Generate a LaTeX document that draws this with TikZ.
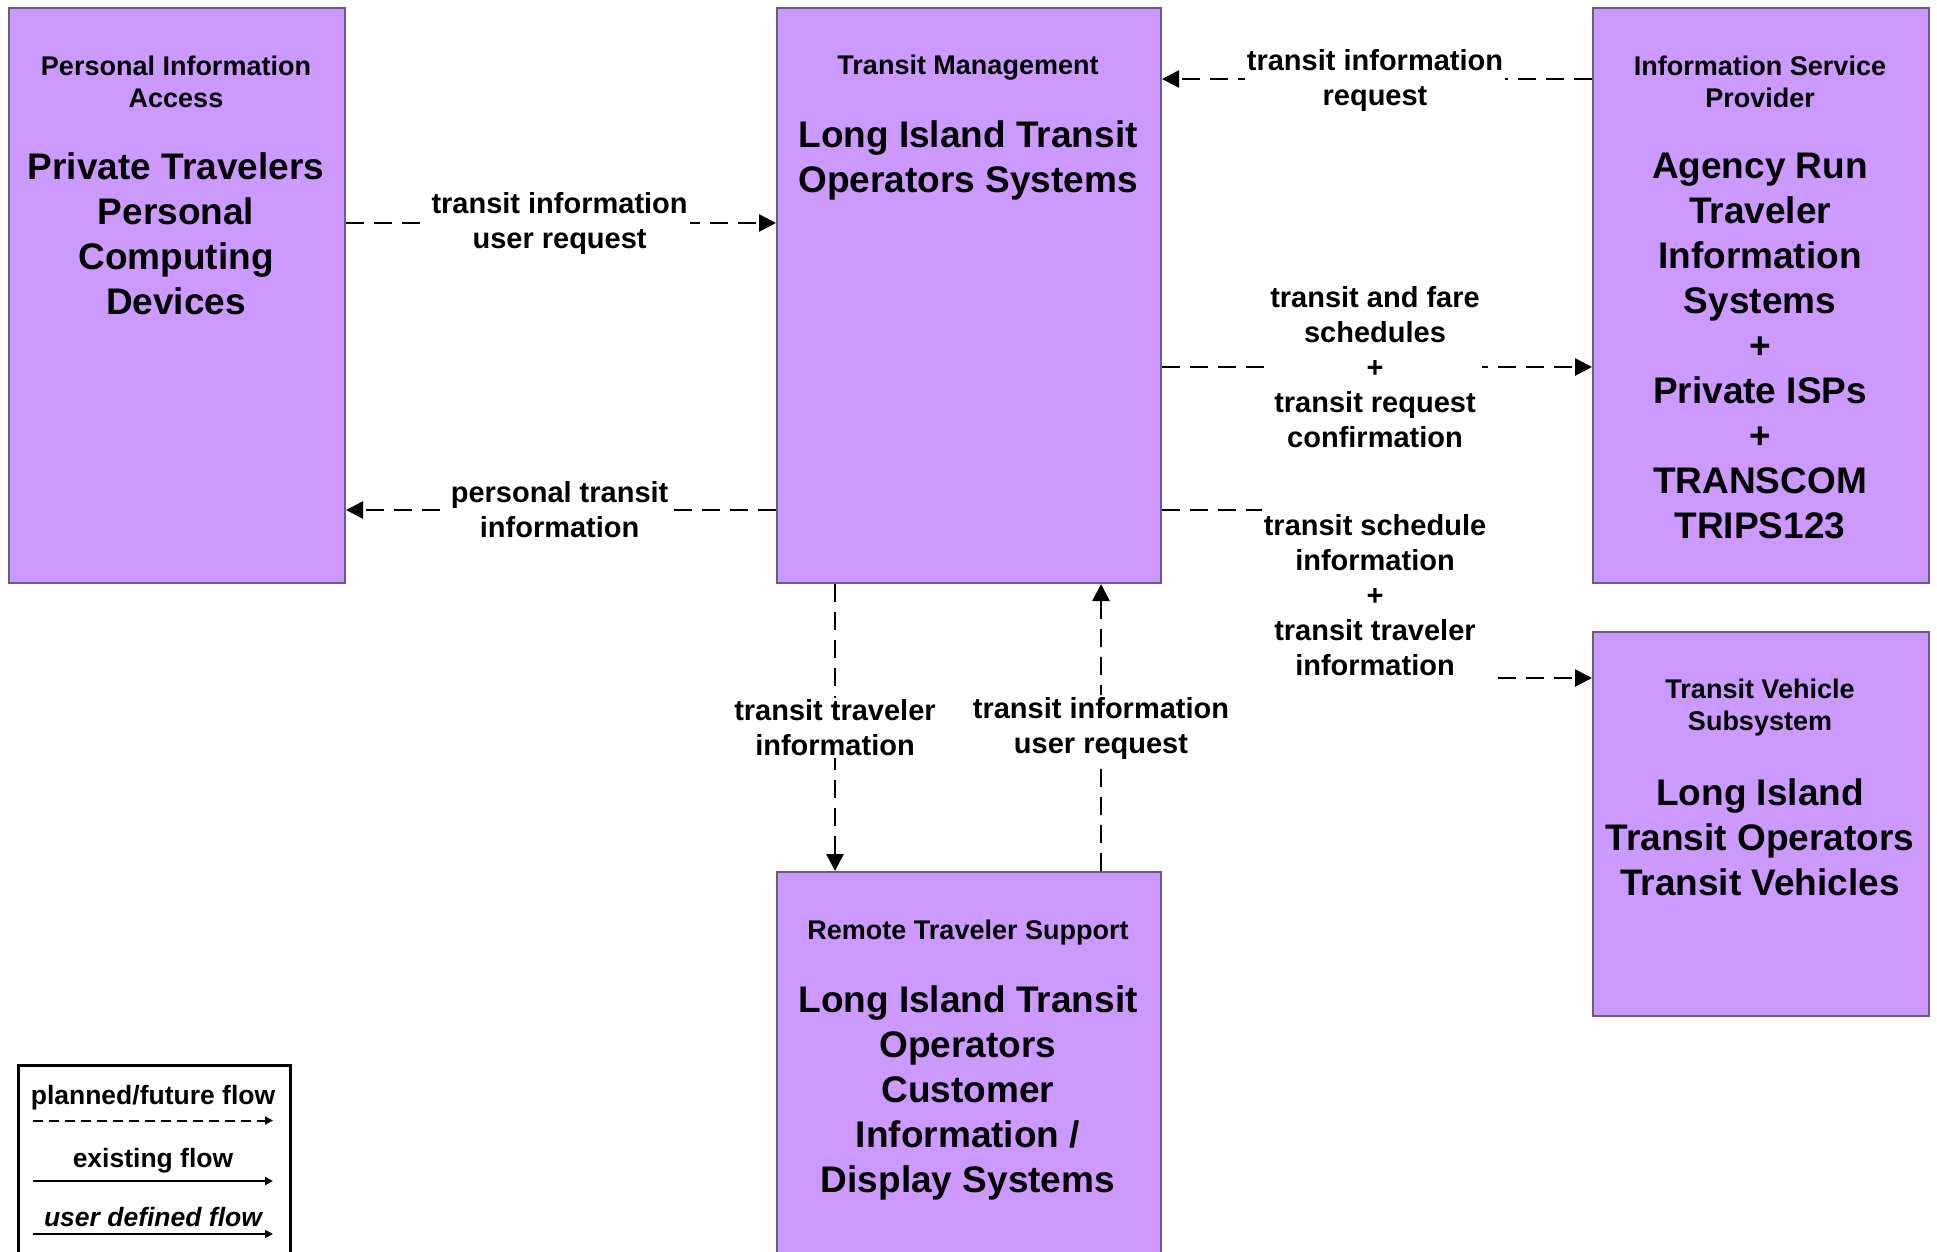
\documentclass[tikz,border=0pt]{standalone}
\usepackage{fontspec}
\setmainfont{Liberation Sans}
\usetikzlibrary{arrows.meta}
\definecolor{boxfill}{HTML}{CC99FF}
\definecolor{boxedge}{RGB}{110,90,130}
\begin{document}
\begin{tikzpicture}[x=1pt,y=1pt,
  box/.style={rectangle,draw=boxedge,line width=2pt,fill=boxfill,anchor=north west,inner sep=0pt},
  ttl/.style={align=center,font=\bfseries\fontsize{27}{32}\selectfont,inner sep=0pt},
  big/.style={align=center,font=\bfseries\fontsize{37}{45}\selectfont,inner sep=0pt},
  lbl/.style={align=center,font=\bfseries\fontsize{29}{35}\selectfont,fill=white,inner sep=2pt},
  flow/.style={line width=2.6pt,dash pattern=on 18pt off 10pt,-{Triangle[length=17pt,width=17pt]}},
  lgd/.style={font=\bfseries\fontsize{26.5}{32}\selectfont,inner sep=0pt}
]
\clip (0,0) rectangle (1937,-1251);
\fill[white] (0,0) rectangle (1937,-1251);

% boxes
\node[box,minimum width=336,minimum height=575] (pia) at (8,-7) {};
\node[box,minimum width=384,minimum height=575] (tm) at (776,-7) {};
\node[box,minimum width=336,minimum height=575] (isp) at (1592,-7) {};
\node[box,minimum width=336,minimum height=384] (tvs) at (1592,-631) {};
\node[box,minimum width=384,minimum height=420] (rts) at (776,-871) {};

% box texts
\node[ttl] (piat) at (176,-82) {Personal Information\\Access};
\node[big] (piab) at (176,-234) {Private Travelers\\Personal\\Computing\\Devices};
\node[ttl] (tmt) at (968,-68) {Transit Management};
\node[big] (tmb) at (968,-160) {Long Island Transit\\Operators Systems};
\node[ttl] (ispt) at (1760,-82) {Information Service\\Provider};
\node[big] (ispb) at (1760,-346) {Agency Run\\Traveler\\Information\\Systems\\+\\Private ISPs\\+\\TRANSCOM\\TRIPS123};
\node[ttl] (tvst) at (1760,-708) {Transit Vehicle\\Subsystem};
\node[big] (tvsb) at (1760,-837) {Long Island\\Transit Operators\\Transit Vehicles};
\node[ttl] (rtst) at (968,-933) {Remote Traveler Support};
\node[big] (rtsb) at (968,-1093) {Long Island Transit\\Operators\\Customer\\Information /\\Display Systems};

% label anchors
\coordinate (y1) at (0,-223);
\coordinate (y2) at (0,-510);
\coordinate (y3) at (0,-79);
\coordinate (y4) at (0,-367);
\coordinate (y5a) at (0,-510);
\coordinate (y5b) at (0,-678);
\coordinate (xv1) at (835,0);
\coordinate (xv2) at (1101,0);
\coordinate (xb) at (1375,0);

% connectors
\draw[flow] (pia.east |- y1) -- (tm.west |- y1);
\draw[flow] (tm.west |- y2) -- (pia.east |- y2);
\draw[flow] (isp.west |- y3) -- (tm.east |- y3);
\draw[flow] (tm.east |- y4) -- (isp.west |- y4);
\draw[flow] (tm.east |- y5a) -- (xb |- y5a) -- (xb |- y5b) -- (tvs.west |- y5b);
\draw[flow] (tm.south -| xv1) -- (rts.north -| xv1);
\draw[flow] (rts.north -| xv2) -- (tm.south -| xv2);

% connector labels
\node[lbl] (l1) at (559.6,-223) {transit information\\user request};
\node[lbl] (l2) at (559.6,-510) {personal transit\\information};
\node[lbl] (l3) at (1375,-80) {transit information\\request};
\node[lbl] (l4) at (1375,-367) {transit and fare\\schedules\\+\\transit request\\confirmation};
\node[lbl,inner ysep=12pt] (l5) at (1375,-595) {transit schedule\\information\\+\\transit traveler\\information};
\node[lbl] (l6) at (835,-728) {transit traveler\\information};
\node[lbl] (l7) at (1101,-728) {transit information\\user request};

% legend
\node[rectangle,draw=black,line width=2.6pt,fill=white,anchor=north west,minimum width=272,minimum height=220,inner sep=0pt] (leg) at (17,-1064) {};
\node[lgd] (lg1) at (153,-1098) {planned/future flow};
\node[lgd] (lg2) at (153,-1161) {existing flow};
\node[lgd,font=\bfseries\itshape\fontsize{26.5}{32}\selectfont] (lg3) at (153,-1217) {user defined flow};
\coordinate (a1s) at (33,-1120.5); \coordinate (a1e) at (273,-1120.5);
\coordinate (a2s) at (33,-1181); \coordinate (a2e) at (273,-1181);
\coordinate (a3s) at (33,-1234); \coordinate (a3e) at (273,-1234);
\draw[line width=2pt,dash pattern=on 10pt off 6pt,-{Triangle[length=8pt,width=8pt]}] (a1s) -- (a1e);
\draw[line width=2pt,-{Triangle[length=8pt,width=8pt]}] (a2s) -- (a2e);
\draw[line width=2pt,-{Triangle[length=8pt,width=8pt]}] (a3s) -- (a3e);
\end{tikzpicture}
\end{document}
